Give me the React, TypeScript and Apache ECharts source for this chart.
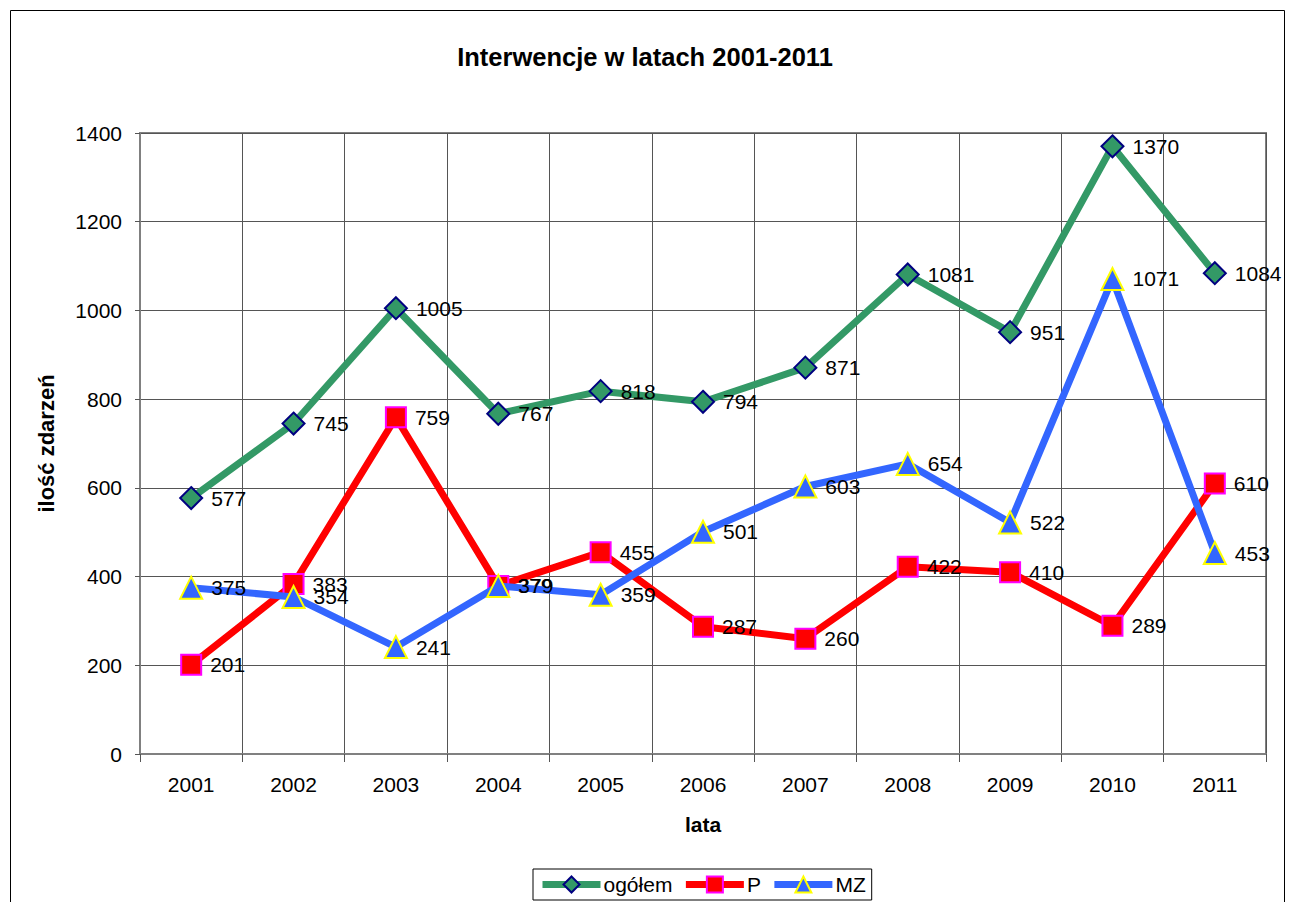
import React, { useEffect, useRef } from "react";
import * as echarts from "echarts";

const years = ["2001", "2002", "2003", "2004", "2005", "2006", "2007", "2008", "2009", "2010", "2011"];
const ogolem = [577, 745, 1005, 767, 818, 794, 871, 1081, 951, 1370, 1084];
const pozary = [201, 383, 759, 379, 455, 287, 260, 422, 410, 289, 610];
const mz = [375, 354, 241, 379, 359, 501, 603, 654, 522, 1071, 453];

const FONT = "'Liberation Sans', Arial, sans-serif";

export default function App() {
  const ref = useRef<HTMLDivElement>(null);
  useEffect(() => {
    document.body.style.margin = "0";
    const chart = echarts.init(ref.current!, null, { renderer: "svg" });
    const label = {
      show: true,
      position: "right" as const,
      distance: 8,
      color: "#000",
      fontSize: 21,
      fontFamily: FONT,
    };
    chart.setOption({
      animation: false,
      backgroundColor: "#fff",
      textStyle: { fontFamily: FONT },
      title: {
        text: "Interwencje w latach 2001-2011",
        left: "center",
        top: 39,
        textStyle: { fontSize: 25.5, fontWeight: "bold", color: "#000", fontFamily: FONT },
      },
      graphic: [
        {
          type: "rect",
          shape: { x: 10.5, y: 10.5, width: 1274, height: 900 },
          style: { fill: "none", stroke: "#000", lineWidth: 1 },
          silent: true,
        },
      ],
      grid: {
        left: 140,
        right: 24,
        top: 133,
        bottom: 148,
        show: true,
        borderColor: "#808080",
        borderWidth: 2,
        backgroundColor: "transparent",
      },
      legend: {
        bottom: 2,
        left: 533,
        borderColor: "#000",
        borderWidth: 1,
        borderRadius: 0,
        padding: [5, 6, 5, 6],
        itemGap: 10,
        itemWidth: 58,
        itemHeight: 20,
        lineStyle: { width: 7 },
        textStyle: { fontSize: 21, color: "#000", fontFamily: FONT, padding: [0, 0, 0, -2] },
        data: ["ogółem", "P", "MZ"],
      },
      xAxis: {
        type: "category",
        data: years,
        boundaryGap: true,
        name: "lata",
        nameLocation: "middle",
        nameGap: 60,
        nameTextStyle: { fontSize: 21, fontWeight: "bold", color: "#000", fontFamily: FONT },
        axisLine: { lineStyle: { color: "#808080", width: 2 } },
        axisTick: { show: true, length: 8, lineStyle: { color: "#555", width: 1 } },
        axisLabel: { fontSize: 21, color: "#000", margin: 20, fontFamily: FONT },
        splitLine: { show: true, lineStyle: { color: "#555", width: 1 } },
      },
      yAxis: {
        type: "value",
        min: 0,
        max: 1400,
        interval: 200,
        name: "ilość zdarzeń",
        nameLocation: "middle",
        nameGap: 83,
        nameTextStyle: { fontSize: 22, fontWeight: "bold", color: "#000", fontFamily: FONT },
        axisLine: { show: true, lineStyle: { color: "#808080", width: 2 } },
        axisTick: { show: true, length: 5, lineStyle: { color: "#555" } },
        axisLabel: {
          fontSize: 21,
          color: "#000",
          margin: 18,
          fontFamily: FONT,
          formatter: (v: number) => String(v),
        },
        splitLine: { show: true, lineStyle: { color: "#555", width: 1 } },
      },
      series: [
        {
          name: "ogółem",
          type: "line",
          data: ogolem,
          symbol: "diamond",
          symbolSize: 22,
          lineStyle: { color: "#339966", width: 7 },
          itemStyle: { color: "#339966", borderColor: "#000080", borderWidth: 2 },
          label,
          z: 3,
        },
        {
          name: "P",
          type: "line",
          data: pozary,
          symbol: "rect",
          symbolSize: 20,
          lineStyle: { color: "#FF0000", width: 7 },
          itemStyle: { color: "#FF0000", borderColor: "#FF00FF", borderWidth: 2 },
          label,
          z: 4,
        },
        {
          name: "MZ",
          type: "line",
          data: mz,
          symbol: "triangle",
          symbolSize: 22,
          lineStyle: { color: "#3366FF", width: 7 },
          itemStyle: { color: "#3366FF", borderColor: "#FFFF00", borderWidth: 2 },
          label,
          z: 5,
        },
      ],
    });
    return () => chart.dispose();
  }, []);
  return <div ref={ref} style={{ width: 1290, height: 902 }} />;
}
